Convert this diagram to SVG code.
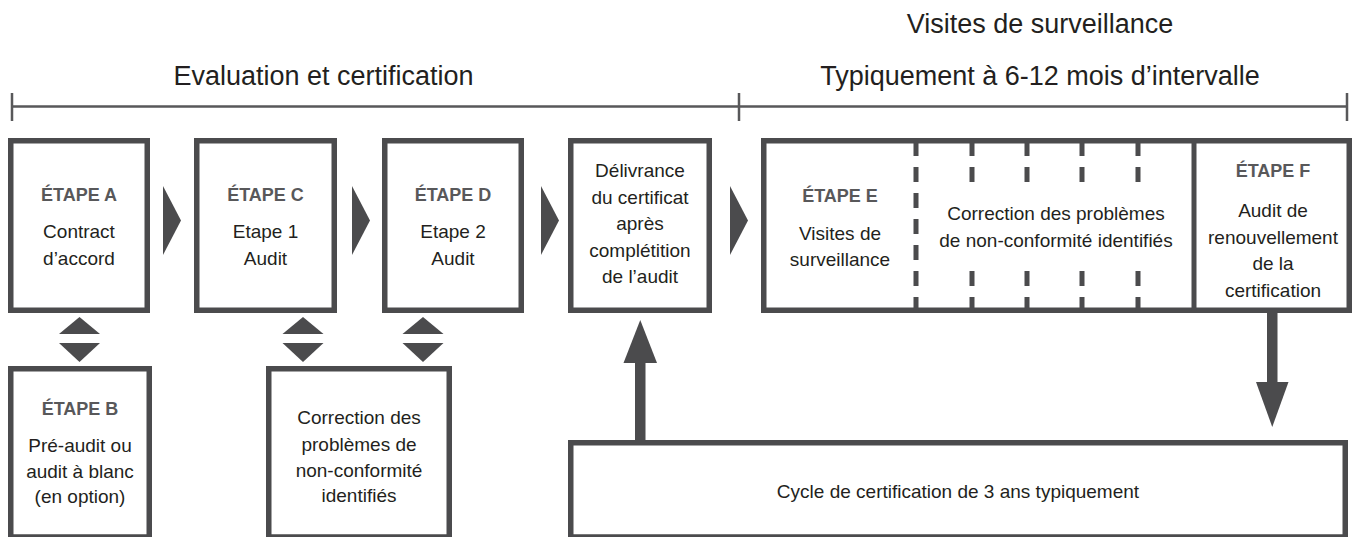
<svg xmlns="http://www.w3.org/2000/svg" width="1358" height="537" viewBox="0 0 1358 537">
<style>
.box{fill:#fff;stroke:#4b4b4d;stroke-width:5.5}
.lbl{font-family:"Liberation Sans",Arial,sans-serif;font-size:18px;font-weight:bold;fill:#58585a;text-anchor:middle}
.txt{font-family:"Liberation Sans",Arial,sans-serif;font-size:19px;fill:#231f20;text-anchor:middle}
.hdr{font-family:"Liberation Sans",Arial,sans-serif;font-size:27px;fill:#231f20;text-anchor:middle}
.tri{fill:#4b4b4d}
.div{stroke:#4b4b4d;stroke-width:5;fill:none}
.dash{stroke:#4b4b4d;stroke-width:5;fill:none}
.tl{stroke:#58585a;stroke-width:2.5;fill:none}
</style>
<rect width="1358" height="537" fill="#fff"/>
<g id="timeline">
<path class="tl" d="M12 106.5H1347M12 93V121M739 93V121M1347 93V121"/>
<text class="hdr" x="323.5" y="85">Evaluation et certification</text>
<text class="hdr" x="1040" y="33">Visites de surveillance</text>
<text class="hdr" x="1040" y="85">Typiquement à 6-12 mois d’intervalle</text>
</g>
<g id="etapeA">
<rect class="box" x="10.75" y="140.75" width="136.5" height="169.5"/>
<text class="lbl" x="79" y="201">ÉTAPE A</text>
<text class="txt" x="79" y="238">Contract</text>
<text class="txt" x="79" y="265">d’accord</text>
</g>
<g id="etapeC">
<rect class="box" x="196.75" y="140.75" width="137.5" height="169.5"/>
<text class="lbl" x="265.5" y="201">ÉTAPE C</text>
<text class="txt" x="265.5" y="238">Etape 1</text>
<text class="txt" x="265.5" y="265">Audit</text>
</g>
<g id="etapeD">
<rect class="box" x="384.75" y="140.75" width="136.5" height="169.5"/>
<text class="lbl" x="453" y="201">ÉTAPE D</text>
<text class="txt" x="453" y="238">Etape 2</text>
<text class="txt" x="453" y="265">Audit</text>
</g>
<g id="delivrance">
<rect class="box" x="570.75" y="140.75" width="138.5" height="169.5"/>
<text class="txt" x="640" y="177">Délivrance</text>
<text class="txt" x="640" y="204">du certificat</text>
<text class="txt" x="640" y="230">après</text>
<text class="txt" x="640" y="257">complétition</text>
<text class="txt" x="640" y="283">de l’audit</text>
</g>
<g id="etapeEF">
<rect class="box" x="763.75" y="140.75" width="585.5" height="169.5"/>
<path class="dash" d="M916 141V156M916 167V182M916 193V208M916 219V234M916 245V260M916 271V286M916 297V311"/>
<path class="dash" d="M972 141V156M972 167V182M972 271V286M972 297V311M1027 141V156M1027 167V182M1027 271V286M1027 297V311M1082 141V156M1082 167V182M1082 271V286M1082 297V311M1138 141V156M1138 167V182M1138 271V286M1138 297V311"/>
<path class="div" d="M1194 141V311"/>
<text class="lbl" x="840" y="202">ÉTAPE E</text>
<text class="txt" x="840" y="240">Visites de</text>
<text class="txt" x="840" y="266">surveillance</text>
<text class="txt" x="1056" y="220">Correction des problèmes</text>
<text class="txt" x="1056" y="247">de non-conformité identifiés</text>
<text class="lbl" x="1273" y="177">ÉTAPE F</text>
<text class="txt" x="1273" y="217">Audit de</text>
<text class="txt" x="1273" y="244">renouvellement</text>
<text class="txt" x="1273" y="270">de la</text>
<text class="txt" x="1273" y="297">certification</text>
</g>
<g id="etapeB">
<rect class="box" x="10.75" y="368.75" width="138.5" height="168.25"/>
<text class="lbl" x="80" y="415">ÉTAPE B</text>
<text class="txt" x="80" y="452">Pré-audit ou</text>
<text class="txt" x="80" y="478">audit à blanc</text>
<text class="txt" x="80" y="503">(en option)</text>
</g>
<g id="correction">
<rect class="box" x="268.75" y="368.75" width="180.5" height="168.25"/>
<text class="txt" x="359" y="424">Correction des</text>
<text class="txt" x="359" y="451">problèmes de</text>
<text class="txt" x="359" y="477">non-conformité</text>
<text class="txt" x="359" y="502">identifiés</text>
</g>
<g id="cycle">
<rect class="box" x="570.75" y="442.75" width="774.5" height="94.25"/>
<text class="txt" x="958" y="498">Cycle de certification de 3 ans typiquement</text>
</g>
<g id="connectors">
<polygon class="tri" points="163,186 181,220.5 163,255"/>
<polygon class="tri" points="352,186 370,220.5 352,255"/>
<polygon class="tri" points="541,186 559,220.5 541,255"/>
<polygon class="tri" points="730,186 748,220.5 730,255"/>
<polygon class="tri" points="59,334 79.5,317 100,334"/>
<polygon class="tri" points="59,343 100,343 79.5,362"/>
<polygon class="tri" points="282.5,334 303,317 323.5,334"/>
<polygon class="tri" points="282.5,343 323.5,343 303,362"/>
<polygon class="tri" points="402.5,334 423,317 443.5,334"/>
<polygon class="tri" points="402.5,343 443.5,343 423,362"/>
<rect class="tri" x="635" y="360" width="10.5" height="82"/>
<polygon class="tri" points="623.5,363 640.25,320 657,363"/>
<rect class="tri" x="1267" y="311" width="10.5" height="73"/>
<polygon class="tri" points="1256,382 1288.5,382 1272.25,427"/>
</g>
</svg>
